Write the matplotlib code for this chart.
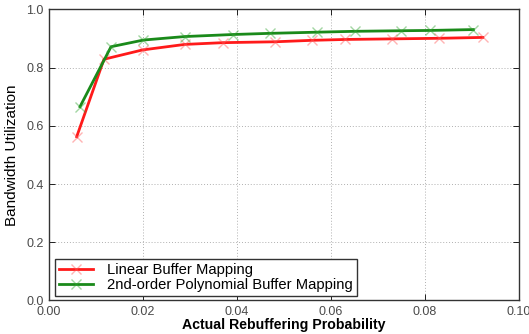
import matplotlib
matplotlib.use("Agg")
import matplotlib.pyplot as plt

plt.rcParams['font.family'] = ['Liberation Sans', 'DejaVu Sans']

# Linear buffer mapping
x_linear = [0.0059, 0.0117, 0.0199, 0.0289, 0.0370, 0.0481, 0.0559, 0.0630, 0.0729, 0.0830, 0.0923]
y_linear = [0.563, 0.829, 0.861, 0.880, 0.886, 0.889, 0.894, 0.897, 0.899, 0.901, 0.904]

# 2nd-order polynomial buffer mapping
x_poly = [0.0066, 0.0132, 0.0201, 0.0289, 0.0391, 0.0470, 0.0570, 0.0651, 0.0750, 0.0811, 0.0903]
y_poly = [0.666, 0.872, 0.895, 0.907, 0.914, 0.918, 0.922, 0.925, 0.927, 0.928, 0.931]

x_ticks = [0.00, 0.02, 0.04, 0.06, 0.08, 0.10]
y_ticks = [0.0, 0.2, 0.4, 0.6, 0.8, 1.0]

fig = plt.figure(figsize=(5.29, 3.34), dpi=100)
ax = fig.add_axes([0.0926, 0.1003, 0.8884, 0.8713])

ax.plot(x_linear, y_linear, color='#ff1a1a', linewidth=2, marker='x', markersize=7,
        markeredgewidth=1, markeredgecolor=(1.0, 0.35, 0.35, 0.45),
        label='Linear Buffer Mapping')
ax.plot(x_poly, y_poly, color='#1a8a1a', linewidth=2, marker='x', markersize=7,
        markeredgewidth=1, markeredgecolor=(0.2, 0.65, 0.2, 0.45),
        label='2nd-order Polynomial Buffer Mapping')

ax.set_xlim(0, 0.10)
ax.set_ylim(0, 1.0)
ax.set_xticks(x_ticks)
ax.set_yticks(y_ticks)
ax.set_xticklabels(['%.2f' % t for t in x_ticks])
ax.set_yticklabels(['%.1f' % t for t in y_ticks])
ax.tick_params(direction='in', top=True, right=True, labelsize=9, labelcolor='#4a4a4a',
               length=4, width=0.6, pad=4)
ax.grid(True, linestyle=(0, (1, 2)), color='#b0b0b0', linewidth=0.7)

for s in ax.spines.values():
    s.set_linewidth(1.0)
    s.set_color('#333333')

ax.set_xlabel('Actual Rebuffering Probability', fontsize=10.2, fontweight='bold', labelpad=0)
ax.set_ylabel('Bandwidth Utilization', fontsize=11, labelpad=5)

leg = ax.legend(loc='lower left', fontsize=10.6, fancybox=False, framealpha=1,
                edgecolor='#333333', borderpad=0.25, handlelength=2.3,
                handletextpad=1.0, labelspacing=0.12, borderaxespad=0,
                bbox_to_anchor=(0.013, 0.015))
leg.get_frame().set_linewidth(1.0)

fig.savefig('out.png', dpi=100)
